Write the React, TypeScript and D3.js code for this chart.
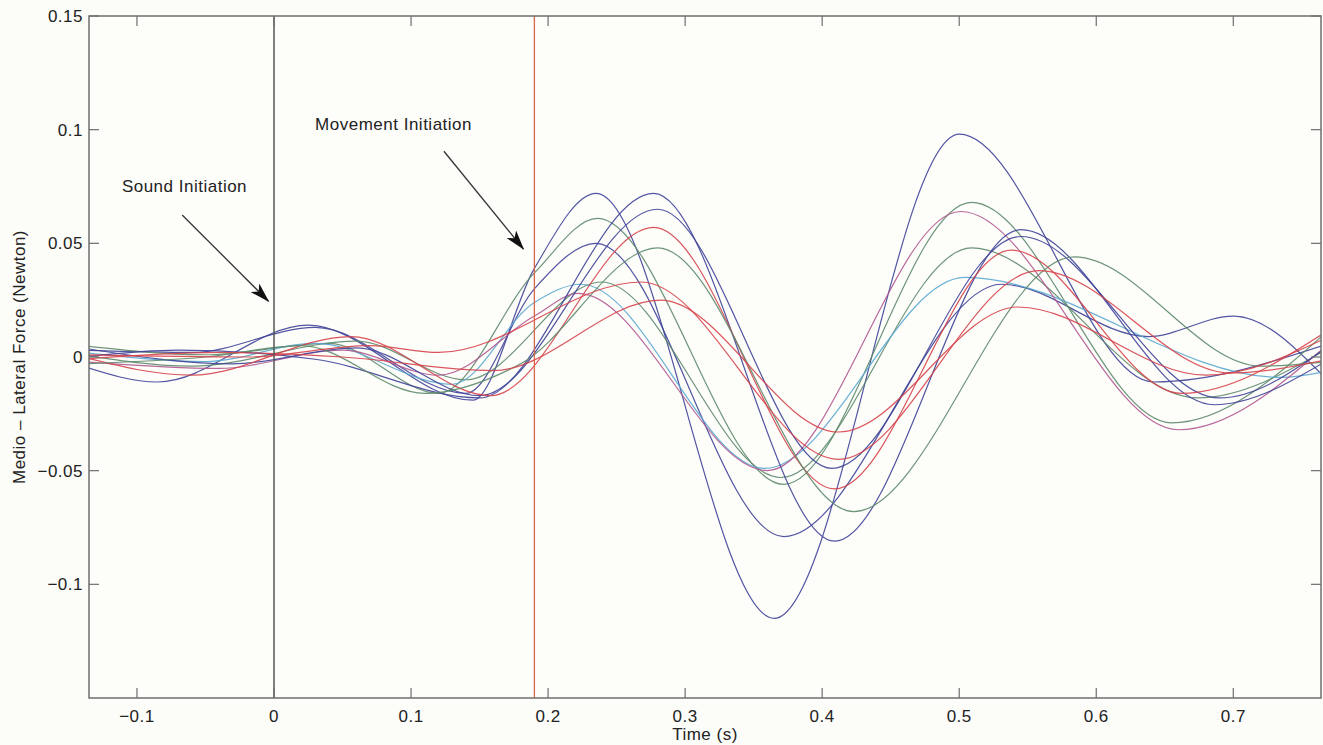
import React from "react";
import * as d3 from "d3";

// ---- data (time in s, force in N) : keypoints ----
const xTicks = [-0.1, 0, 0.1, 0.2, 0.3, 0.4, 0.5, 0.6, 0.7];
const yTicks = [0.15, 0.1, 0.05, 0, -0.05, -0.1];
const xDomain = [-0.135, 0.764];
const yDomain = [-0.15, 0.15];

const soundTime = 0;
const movementTime = 0.19;

const traceE1: [number, number][] = [[-0.14,-0.004],[-0.085,-0.011],[0.025,0.014],[0.145,-0.019],[0.19,0.039],[0.235,0.072],[0.365,-0.115],[0.50,0.098],[0.642,-0.011],[0.77,0.006]];
const traceE2: [number, number][] = [[-0.14,0.003],[-0.06,0.002],[0.03,0.013],[0.14,-0.016],[0.19,0.030],[0.235,0.050],[0.372,-0.079],[0.531,0.032],[0.638,0.009],[0.70,0.018],[0.77,-0.011]];
const traceE3: [number, number][] = [[-0.14,0.005],[-0.05,0.001],[0.04,0.006],[0.12,-0.016],[0.19,0.037],[0.236,0.061],[0.372,-0.056],[0.509,0.068],[0.655,-0.029],[0.77,0.012]];
const traceE4: [number, number][] = [[-0.14,0.001],[-0.06,-0.004],[0.06,0.007],[0.14,-0.010],[0.239,0.033],[0.370,-0.053],[0.509,0.048],[0.674,-0.018],[0.77,0.004]];
const traceE5: [number, number][] = [[-0.14,0.002],[-0.05,-0.002],[0.03,0.006],[0.13,-0.012],[0.19,0.024],[0.224,0.032],[0.358,-0.049],[0.504,0.035],[0.735,-0.009],[0.77,-0.006]];
const traceE6: [number, number][] = [[-0.14,-0.002],[-0.04,-0.005],[0.05,0.003],[0.12,-0.008],[0.19,0.018],[0.222,0.028],[0.360,-0.050],[0.501,0.064],[0.660,-0.032],[0.77,0.006]];
const traceL1: [number, number][] = [[-0.14,0.000],[-0.07,0.003],[0.03,-0.001],[0.15,-0.018],[0.277,0.072],[0.409,-0.081],[0.545,0.056],[0.686,-0.021],[0.77,-0.001]];
const traceL2: [number, number][] = [[-0.14,0.004],[-0.03,-0.003],[0.06,0.004],[0.15,-0.017],[0.280,0.065],[0.407,-0.049],[0.545,0.053],[0.69,-0.018],[0.77,0.005]];
const traceL3: [number, number][] = [[-0.14,0.000],[-0.06,-0.008],[0.056,0.009],[0.158,-0.017],[0.277,0.057],[0.409,-0.058],[0.538,0.047],[0.662,-0.016],[0.77,0.012]];
const traceL4: [number, number][] = [[-0.14,-0.003],[-0.05,0.000],[0.02,0.005],[0.11,-0.016],[0.18,-0.003],[0.280,0.048],[0.423,-0.068],[0.584,0.044],[0.72,-0.004],[0.77,-0.002]];
const traceL5: [number, number][] = [[-0.14,0.001],[-0.02,0.000],[0.07,0.005],[0.12,0.002],[0.268,0.033],[0.412,-0.045],[0.558,0.038],[0.698,-0.007],[0.77,-0.001]];
const traceL6: [number, number][] = [[-0.14,-0.001],[-0.04,0.002],[0.05,0.000],[0.16,-0.006],[0.282,0.025],[0.412,-0.033],[0.543,0.022],[0.68,-0.008],[0.77,0.009]];

const BLUE = "#3f4398";
const GREEN = "#5d8a6c";
const RED = "#d6424a";
const LIGHTBLUE = "#5ba9d0";
const PINK = "#b05890";

const series = [
  { name: "E1", color: BLUE, data: traceE1 },
  { name: "E2", color: BLUE, data: traceE2 },
  { name: "E3", color: GREEN, data: traceE3 },
  { name: "E4", color: GREEN, data: traceE4 },
  { name: "E5", color: LIGHTBLUE, data: traceE5 },
  { name: "E6", color: PINK, data: traceE6 },
  { name: "L1", color: BLUE, data: traceL1 },
  { name: "L2", color: BLUE, data: traceL2 },
  { name: "L3", color: RED, data: traceL3 },
  { name: "L4", color: GREEN, data: traceL4 },
  { name: "L5", color: RED, data: traceL5 },
  { name: "L6", color: RED, data: traceL6 },
];

// annotations: label anchor and arrow [from, to] in data units
const annotations = [
  { text: "Sound Initiation", at: [-0.111, 0.0725], from: [-0.067, 0.0625], to: [-0.004, 0.0245] },
  { text: "Movement Initiation", at: [0.030, 0.100], from: [0.124, 0.0905], to: [0.182, 0.0475] },
];

export default function App() {
  const W = 1323, H = 745;
  const m = { left: 89, right: 2, top: 16, bottom: 47 };
  const x = d3.scaleLinear().domain(xDomain).range([m.left, W - m.right]);
  const y = d3.scaleLinear().domain(yDomain).range([H - m.bottom, m.top]);
  const line = d3.line<[number, number]>().x(d => x(d[0])).y(d => y(d[1])).curve(d3.curveMonotoneX);
  const x0 = m.left, x1 = W - m.right, y0 = m.top, y1 = H - m.bottom;
  const font = "'Liberation Sans', Arial, Helvetica, sans-serif";
  const fmt = (v: number) => (v < 0 ? "\u2212" + String(Math.abs(v)) : String(v));
  const axisColor = "#6e6e6e";
  const tick = 10;
  const fs = 17;
  const ls = 0.5;

  return (
    <div style={{ position: "absolute", left: 0, top: 0 }}>
      <svg width={W} height={H} style={{ display: "block", background: "#fcfcf8" }} fontFamily={font}>
        <defs>
          <clipPath id="plot"><rect x={x0} y={y0} width={x1 - x0} height={y1 - y0} /></clipPath>
          <marker id="arrowhead" viewBox="0 0 20 12" refX="19" refY="6" markerWidth="20" markerHeight="12" markerUnits="userSpaceOnUse" orient="auto">
            <path d="M0,0 L20,6 L0,12 L5,6 Z" fill="#111" />
          </marker>
        </defs>
        <rect x={x0} y={y0} width={x1 - x0} height={y1 - y0} fill="#fdfdfa" />
        <g clipPath="url(#plot)">
          {series.map(s => (
            <path key={s.name} d={line(s.data) || ""} fill="none" stroke={s.color} strokeWidth={1.2} strokeOpacity={0.9} />
          ))}
          <line x1={x(soundTime)} x2={x(soundTime)} y1={y0} y2={y1} stroke="#555" strokeWidth={1.5} />
          <line x1={x(movementTime)} x2={x(movementTime)} y1={y0} y2={y1} stroke="#d9664f" strokeWidth={1.3} />
        </g>
        {/* box */}
        <rect x={x0} y={y0} width={x1 - x0} height={y1 - y0} fill="none" stroke={axisColor} strokeWidth={1.5} />
        {xTicks.map(t => (
          <g key={"xt" + t}>
            <line x1={x(t)} x2={x(t)} y1={y1} y2={y1 - tick} stroke={axisColor} strokeWidth={1.2} />
            <line x1={x(t)} x2={x(t)} y1={y0} y2={y0 + tick} stroke={axisColor} strokeWidth={1.2} />
            <text x={x(t)} y={y1 + 24} textAnchor="middle" fontSize={fs} letterSpacing={ls} fill="#222">{fmt(t)}</text>
          </g>
        ))}
        {yTicks.map(t => (
          <g key={"yt" + t}>
            <line x1={x0} x2={x0 + tick} y1={y(t)} y2={y(t)} stroke={axisColor} strokeWidth={1.2} />
            <line x1={x1} x2={x1 - tick} y1={y(t)} y2={y(t)} stroke={axisColor} strokeWidth={1.2} />
            <text x={x0 - 6} y={y(t)} dy="0.35em" textAnchor="end" fontSize={fs} letterSpacing={ls} fill="#222">{fmt(t)}</text>
          </g>
        ))}
        <text x={(x0 + x1) / 2} y={H - 5} textAnchor="middle" fontSize={fs} letterSpacing={ls} fill="#222">Time (s)</text>
        <text transform={`translate(25,${(y0 + y1) / 2}) rotate(-90)`} textAnchor="middle" fontSize={fs} letterSpacing={ls} fill="#222">Medio – Lateral Force (Newton)</text>
        {annotations.map(a => (
          <g key={a.text}>
            <text x={x(a.at[0])} y={y(a.at[1])} fontSize={fs} letterSpacing={ls} fill="#222">{a.text}</text>
            <line x1={x(a.from[0])} y1={y(a.from[1])} x2={x(a.to[0])} y2={y(a.to[1])} stroke="#333" strokeWidth={1.3} markerEnd="url(#arrowhead)" />
          </g>
        ))}
      </svg>
    </div>
  );
}
